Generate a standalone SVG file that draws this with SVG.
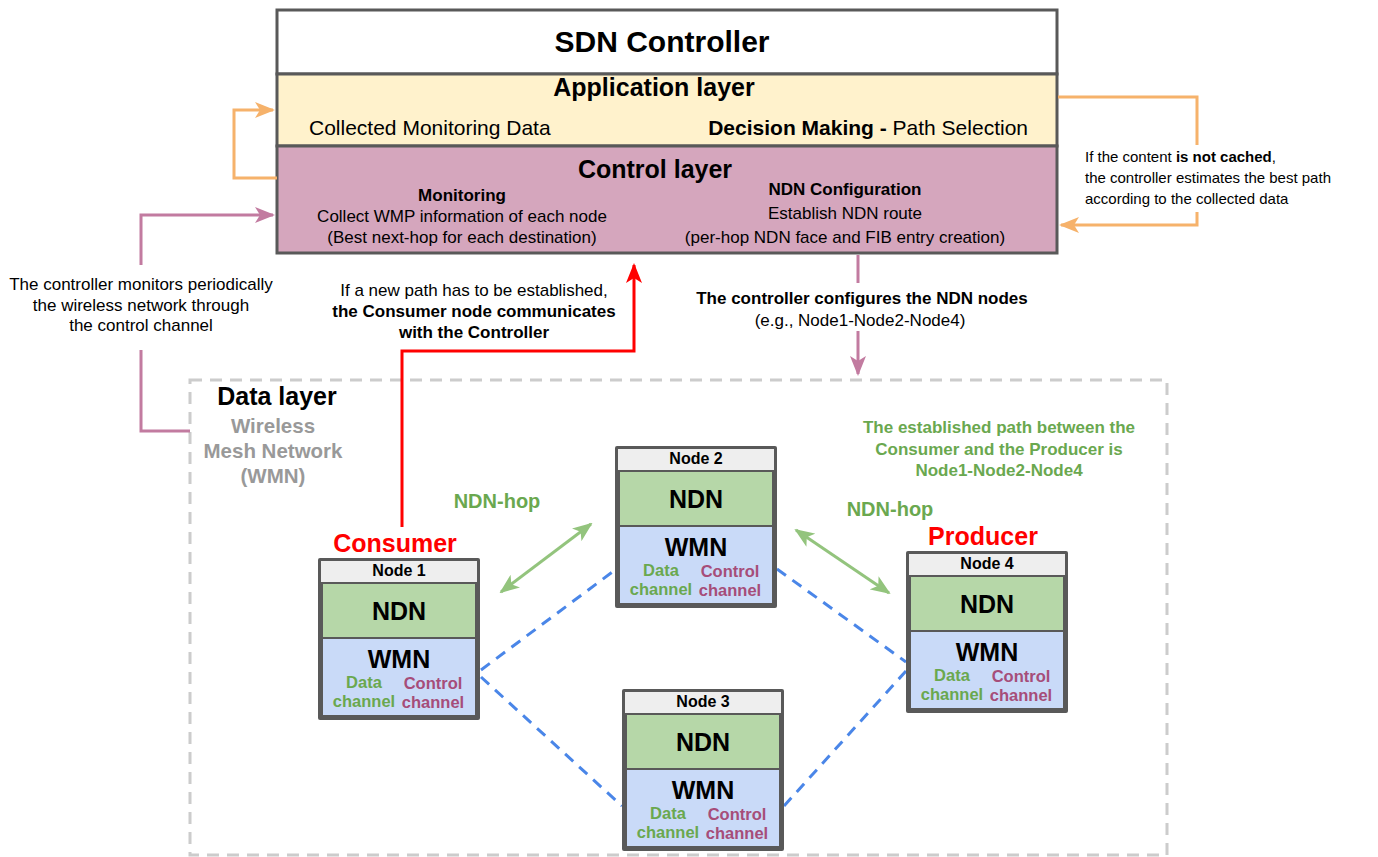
<svg xmlns="http://www.w3.org/2000/svg" width="1378" height="857" viewBox="0 0 1378 857">
  <style>
    text { font-family: "Liberation Sans", Arial, sans-serif; fill: #000; }
    .b { font-weight: bold; }
    .c { text-anchor: middle; }
    .ctl { font-size: 17px; }
    .ann { font-size: 17px; }
    .conn { fill: none; stroke-width: 3; }
    .orange { stroke: #f6b26b; }
    .pink { stroke: #c27ba0; }
    .red { stroke: #ff0000; }
    .green { stroke: #93c47d; }
    .mesh { stroke: #4a86e8; stroke-width: 3; stroke-dasharray: 11 8; fill: none; }
    .frame { fill: #595959; }
    .hdr { fill: #eeeeee; }
    .ndn { fill: #b6d7a8; }
    .wmn { fill: #c9daf8; }
    .nname { font-size: 16px; font-weight: bold; text-anchor: middle; }
    .big { font-size: 25px; font-weight: bold; text-anchor: middle; }
    .dch { font-size: 16.5px; font-weight: bold; text-anchor: middle; fill: #6aa84f; }
    .cch { font-size: 16.5px; font-weight: bold; text-anchor: middle; fill: #a64d79; }
    .gtxt { fill: #6aa84f; font-weight: bold; }
  </style>
  <defs>
    <marker id="arO" viewBox="0 0 20 16" refX="18" refY="8" markerWidth="20" markerHeight="16" markerUnits="userSpaceOnUse" orient="auto-start-reverse">
      <path d="M0,0 L20,8 L0,16 L5,8 z" fill="#f6b26b"/>
    </marker>
    <marker id="arP" viewBox="0 0 20 16" refX="18" refY="8" markerWidth="20" markerHeight="16" markerUnits="userSpaceOnUse" orient="auto-start-reverse">
      <path d="M0,0 L20,8 L0,16 L5,8 z" fill="#c27ba0"/>
    </marker>
    <marker id="arR" viewBox="0 0 20 16" refX="18" refY="8" markerWidth="20" markerHeight="16" markerUnits="userSpaceOnUse" orient="auto-start-reverse">
      <path d="M0,0 L20,8 L0,16 L5,8 z" fill="#ff0000"/>
    </marker>
    <marker id="arG" viewBox="0 0 20 16" refX="18" refY="8" markerWidth="20" markerHeight="16" markerUnits="userSpaceOnUse" orient="auto-start-reverse">
      <path d="M0,0 L20,8 L0,16 L5,8 z" fill="#93c47d"/>
    </marker>
    <!-- a network node: frame, name bar, NDN layer and WMN layer -->
    <g id="nodeShape">
      <rect x="0" y="0" width="162" height="162" rx="2" class="frame"/>
      <rect x="3" y="3" width="156" height="21" class="hdr"/>
      <rect x="5" y="26" width="152" height="53" class="ndn"/>
      <rect x="5" y="81" width="152" height="76" class="wmn"/>
      <text x="81" y="62" class="big">NDN</text>
      <text x="81" y="110" class="big">WMN</text>
      <text x="46" y="130" class="dch">Data</text>
      <text x="46" y="149" class="dch">channel</text>
      <text x="115" y="131" class="cch">Control</text>
      <text x="115" y="150" class="cch">channel</text>
    </g>
  </defs>

  <rect width="1378" height="857" fill="#ffffff"/>

  <!-- data layer region -->
  <g id="dataLayer">
    <rect x="190" y="380" width="977" height="475" fill="none" stroke="#cccccc" stroke-width="3" stroke-dasharray="12 8"/>
    <text x="277" y="405" class="b c" style="font-size:25px">Data layer</text>
    <text x="273" y="433" class="b c" style="font-size:20.5px;fill:#999999">Wireless</text>
    <text x="273" y="458" class="b c" style="font-size:20.5px;fill:#999999">Mesh Network</text>
    <text x="273" y="483" class="b c" style="font-size:20.5px;fill:#999999">(WMN)</text>
  </g>

  <!-- SDN controller stack -->
  <g id="controller">
    <rect x="277" y="10" width="780" height="64" fill="#ffffff" stroke="#595959" stroke-width="3"/>
    <rect x="277" y="74" width="780" height="72" fill="#fff2cc" stroke="#595959" stroke-width="3"/>
    <rect x="277" y="146" width="780" height="107" fill="#d5a6bd" stroke="#595959" stroke-width="3"/>
    <text x="662" y="52" class="b c" style="font-size:30px">SDN Controller</text>
    <text x="654" y="96" class="b c" style="font-size:25px">Application layer</text>
    <text x="309" y="135" style="font-size:21px">Collected Monitoring Data</text>
    <text x="1028" y="135" style="font-size:21px;text-anchor:end"><tspan class="b">Decision Making -</tspan> Path Selection</text>
    <text x="655" y="178" class="b c" style="font-size:25px">Control layer</text>
    <text x="462" y="201" class="b c ctl">Monitoring</text>
    <text x="462" y="222" class="c ctl">Collect WMP information of each node</text>
    <text x="462" y="243" class="c ctl">(Best next-hop for each destination)</text>
    <text x="845" y="195" class="b c ctl">NDN Configuration</text>
    <text x="845" y="219" class="c ctl">Establish NDN route</text>
    <text x="845" y="243" class="c ctl">(per-hop NDN face and FIB entry creation)</text>
  </g>

  <!-- connectors -->
  <g id="connectors">
    <path class="conn orange" d="M277,178 H234 V110 H273" marker-end="url(#arO)"/>
    <path class="conn orange" d="M1058,97 H1197 V145"/>
    <path class="conn orange" d="M1197,212 V225 H1061" marker-end="url(#arO)"/>
    <path class="conn pink" d="M190,431 H141 V350"/>
    <path class="conn pink" d="M141,265 V215 H273" marker-end="url(#arP)"/>
    <path class="conn red" d="M402,527 V351 H634 V265" marker-end="url(#arR)"/>
    <path class="conn pink" d="M858,255 V283"/>
    <path class="conn pink" d="M858,331 V374" marker-end="url(#arP)"/>
    <line class="conn green" x1="501" y1="592" x2="591" y2="524" marker-start="url(#arG)" marker-end="url(#arG)"/>
    <line class="conn green" x1="796" y1="530" x2="889" y2="593" marker-start="url(#arG)" marker-end="url(#arG)"/>
    <line class="mesh" x1="481" y1="670" x2="615" y2="570"/>
    <line class="mesh" x1="481" y1="677" x2="622" y2="806"/>
    <line class="mesh" x1="777" y1="569" x2="906" y2="662"/>
    <line class="mesh" x1="784" y1="806" x2="906" y2="671"/>
  </g>

  <!-- annotations -->
  <g id="notes">
    <text x="141" y="290" class="c ann">The controller monitors periodically</text>
    <text x="141" y="311" class="c ann">the wireless network through</text>
    <text x="141" y="331" class="c ann">the control channel</text>
    <text x="1085" y="162" style="font-size:15px">If the content <tspan class="b">is not cached</tspan>,</text>
    <text x="1085" y="183" style="font-size:15px">the controller estimates the best path</text>
    <text x="1085" y="204" style="font-size:15px">according to the collected data</text>
    <text x="474" y="296" class="c ann">If a new path has to be established,</text>
    <text x="474" y="317" class="b c ann">the Consumer node communicates</text>
    <text x="474" y="338" class="b c ann">with the Controller</text>
    <text x="862" y="304" class="b c ann">The controller configures the NDN nodes</text>
    <text x="860" y="326" class="c ann">(e.g., Node1-Node2-Node4)</text>
    <text x="999" y="433" class="gtxt c" style="font-size:17px">The established path between the</text>
    <text x="999" y="455" class="gtxt c" style="font-size:17px">Consumer and the Producer is</text>
    <text x="999" y="476" class="gtxt c" style="font-size:17px">Node1-Node2-Node4</text>
    <text x="497" y="508" class="gtxt c" style="font-size:20px">NDN-hop</text>
    <text x="890" y="516" class="gtxt c" style="font-size:20px">NDN-hop</text>
  </g>

  <!-- nodes -->
  <g id="node1" transform="translate(318,558)">
    <use href="#nodeShape"/>
    <text x="81" y="18" class="nname">Node 1</text>
    <text x="77" y="-6" class="big" style="fill:#ff0000">Consumer</text>
  </g>
  <g id="node2" transform="translate(615,446)">
    <use href="#nodeShape"/>
    <text x="81" y="18" class="nname">Node 2</text>
  </g>
  <g id="node3" transform="translate(622,689)">
    <use href="#nodeShape"/>
    <text x="81" y="18" class="nname">Node 3</text>
  </g>
  <g id="node4" transform="translate(906,551)">
    <use href="#nodeShape"/>
    <text x="81" y="18" class="nname">Node 4</text>
    <text x="77" y="-6" class="big" style="fill:#ff0000">Producer</text>
  </g>
</svg>
